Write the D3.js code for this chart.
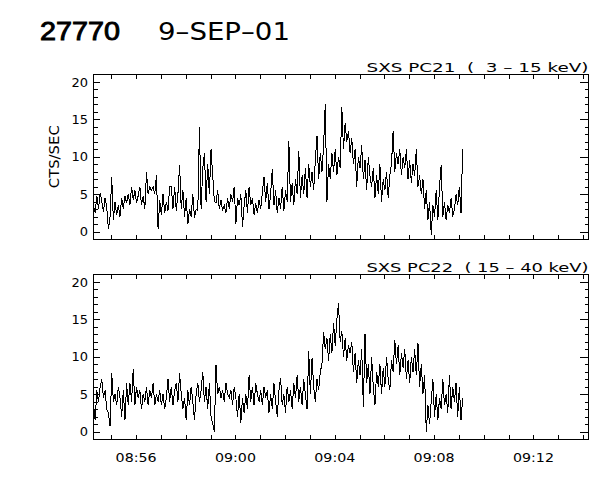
<!DOCTYPE html>
<html><head><meta charset="utf-8">
<script src="https://cdn.jsdelivr.net/npm/d3@7/dist/d3.min.js"></script>
<style>body{margin:0;background:#fff}svg{display:block}</style>
</head><body>
<svg id="chart" width="600" height="480"></svg>
<script>
// ---- data ----
const orbitLabel = "27770";
const dateLabel = "9–SEP–01";
const yAxisTitle = "CTS/SEC";
const seriesLabels = ["SXS PC21  (  3 – 15 keV)", "SXS PC22  ( 15 – 40 keV)"];
const dataStart = "2001-09-09T08:54:17Z";
const axisStart = "2001-09-09T08:54:17Z";
const axisEnd = "2001-09-09T09:14:13Z";
const binSeconds = 4;
const yTicks = [0, 5, 10, 15, 20];
const xTickLabels = ["08:56", "09:00", "09:04", "09:08", "09:12"];

const pc21 = [
 3.5,2.5,4.8,3.0,5.2,4.0,2.6,4.5,3.2,
 0.3,2.0,7.3,
 1.5,4.0,2.2,3.5,2.0,4.5,3.0,4.8,3.8,
 5.0,3.5,6.0,4.2,5.5,3.8,4.8,6.0,
 3.5,4.8,3.0,7.9,5.0,6.0,
 5.5,6.0,5.0,7.5,0.3,
 4.2,2.2,5.0,2.5,4.0,2.8,6.0,6.0,3.0,6.0,2.8,5.0,8.9,
 3.0,5.5,2.0,4.5,1.0,3.0,2.0,5.0,1.8,3.0,2.8,
 14.0,
 3.0,8.5,10.5,4.0,9.0,5.0,11.0,7.5,
 4.0,3.8,5.5,3.0,4.2,2.8,3.5,2.5,4.5,3.0,5.0,4.0,6.0,1.0,4.5,3.5,
 5.0,0.6,3.5,5.5,2.5,6.0,3.5,4.5,2.2,3.8,2.5,4.2,3.0,5.2,7.3,
 4.0,6.5,3.0,5.0,8.4,3.5,5.5,2.5,4.5,3.0,6.0,2.8,5.5,4.0,
 12.1,4.0,6.5,3.5,7.0,5.0,10.8,4.5,
 7.5,5.0,8.5,4.5,9.0,6.0,8.0,5.5,
 9.5,12.8,7.0,10.5,8.0,11.5,17.1,4.0,
 9.0,7.0,10.5,8.0,11.0,7.5,10.0,8.5,16.6,
 11.0,14.5,12.0,13.5,10.5,
 12.5,9.0,11.0,6.0,10.0,8.5,11.5,7.0,9.5,5.5,10.0,7.5,
 6.0,8.5,4.5,7.5,5.0,9.0,4.0,7.0,5.5,8.0,4.5,7.5,9.0,13.5,
 8.0,10.5,9.0,11.0,7.5,10.0,
 8.5,11.0,7.0,9.5,6.5,9.0,7.5,11.0,6.0,
 7.5,5.0,7.0,3.0,5.5,1.5,4.0,-0.4,3.5,
 2.0,5.5,1.5,6.0,8.9,2.0,
 4.0,1.5,3.5,2.5,4.5,2.0,3.0,5.0,3.5,6.0,2.5,11.1
];

const pc22 = [
 3.5,1.5,5.5,4.0,6.0,7.0,4.5,5.5,3.0,
 2.5,0.7,7.8,
 4.0,5.0,3.5,6.0,4.5,2.0,5.5,1.5,6.5,
 3.5,6.5,4.0,8.4,3.5,6.0,4.5,5.5,
 3.0,5.0,4.0,6.0,3.5,5.5,4.5,6.5,3.5,5.0,4.0,
 5.5,3.5,5.0,3.0,4.5,7.0,4.0,6.0,3.5,5.5,6.5,4.0,7.8,
 5.0,3.0,4.5,1.5,5.5,3.5,6.0,4.0,1.5,5.0,6.5,4.0,
 5.5,8.0,4.0,6.0,3.0,6.5,2.0,1.0,0.0,
 8.9,5.0,6.0,4.5,5.5,4.0,6.5,5.0,4.5,5.5,3.5,6.0,4.5,2.0,
 5.0,1.2,4.5,2.5,5.0,3.0,
 7.5,4.0,6.0,3.5,6.5,5.0,4.0,5.5,3.5,6.0,4.5,5.5,
 2.5,5.0,3.0,6.5,4.0,2.0,5.5,7.2,3.5,5.0,2.5,6.0,4.0,5.5,3.0,6.5,4.5,7.5,
 4.0,6.0,3.5,7.0,5.0,3.0,10.7,5.0,
 9.8,6.0,4.0,7.0,5.5,8.0,
 9.0,13.3,11.0,12.5,
 9.5,13.0,10.5,14.5,11.5,15.0,17.2,12.0,
 13.5,10.0,12.5,9.5,11.5,10.5,
 12.0,8.0,10.5,6.5,9.5,7.5,11.0,3.3,
 13.0,6.5,9.0,5.0,10.0,6.0,3.5,8.0,6.0,
 9.0,5.0,8.5,6.0,10.0,7.0,5.5,9.5,
 8.0,12.2,9.0,11.5,7.5,10.5,8.5,
 11.0,7.0,9.5,6.5,10.0,8.0,11.0,7.5,11.8,
 6.0,9.0,5.0,7.5,
 0.0,3.5,1.0,
 4.0,7.0,2.0,5.0,1.5,4.5,3.0,7.0,
 3.5,5.0,2.5,7.5,3.0,6.0,4.0,6.5,2.0,6.0,1.5,4.5
];

// ---- drawing ----
const svg = d3.select("#chart");
svg.append("rect").attr("width",600).attr("height",480).attr("fill","#fff");
const FONT = "DejaVu Sans, Liberation Sans, sans-serif";
const left = 93.5, right = 588.5;
const panelTops = [74.5, 274.5];
const panelH = 164.5;
const series = [pc21, pc22];

const x = d3.scaleUtc().domain([new Date(axisStart), new Date(axisEnd)]).range([left, right]);
const t0 = new Date(dataStart).getTime();

svg.append("text").attr("x",40).attr("y",40)
  .attr("font-family","Liberation Sans, Arial, sans-serif").attr("font-size",25)
  .attr("stroke","#000").attr("stroke-width",0.9)
  .attr("textLength",80).attr("lengthAdjust","spacingAndGlyphs").text(orbitLabel);
svg.append("text").attr("x",158).attr("y",40)
  .attr("font-family",FONT).attr("font-size",25).attr("font-weight","normal")
  .attr("textLength",132).attr("lengthAdjust","spacingAndGlyphs").text(dateLabel);

const minuteTicks = d3.utcMinute.every(1).range(x.domain()[0], x.domain()[1]);
const labelTicks = d3.utcMinute.every(4).range(x.domain()[0], x.domain()[1]);
const fmt = d3.utcFormat("%H:%M");

series.forEach((vals, p) => {
  const top = panelTops[p], bottom = top + panelH;
  const y = d3.scaleLinear().domain([-1, 21]).range([bottom, top]);
  const g = svg.append("g");

  // data line
  const line = d3.line()
    .x((d,i) => x(new Date(t0 + i*binSeconds*1000)))
    .y(d => y(d))
    .curve(d3.curveLinear);
  g.append("path").datum(vals).attr("d", line)
    .attr("fill","none").attr("stroke","#000").attr("stroke-width",1)
    .attr("shape-rendering","crispEdges");

  // frame
  g.append("rect").attr("x",left).attr("y",top).attr("width",right-left).attr("height",panelH)
    .attr("fill","none").attr("stroke","#000").attr("stroke-width",1).attr("shape-rendering","crispEdges");

  // y ticks
  const minorY = d3.range(0, 21, 1);
  minorY.forEach(v => {
    const major = yTicks.includes(v);
    const yy = Math.round(y(v)) + 0.5;
    g.append("line").attr("x1",left).attr("x2",left + (major?6:4)).attr("y1",yy).attr("y2",yy)
      .attr("stroke","#000").attr("shape-rendering","crispEdges");
    g.append("line").attr("x1",right).attr("x2",right - (major?9:4)).attr("y1",yy).attr("y2",yy)
      .attr("stroke","#000").attr("shape-rendering","crispEdges");
  });
  yTicks.forEach(v => {
    g.append("text").attr("x",88).attr("y",y(v)).attr("dy","0.36em")
      .attr("text-anchor","end").attr("font-family",FONT).attr("font-size",13)
      .text(String(v));
  });

  // x ticks
  minuteTicks.forEach(t => {
    const xx = Math.round(x(t)) + 0.5;
    g.append("line").attr("x1",xx).attr("x2",xx).attr("y1",bottom).attr("y2",bottom-4)
      .attr("stroke","#000").attr("shape-rendering","crispEdges");
    g.append("line").attr("x1",xx).attr("x2",xx).attr("y1",top).attr("y2",top+4)
      .attr("stroke","#000").attr("shape-rendering","crispEdges");
  });

  // series label
  g.append("text").attr("x",right).attr("y",top-3).attr("text-anchor","end")
    .attr("font-family",FONT).attr("font-size",13)
    .style("white-space","pre")
    .attr("textLength",222).attr("lengthAdjust","spacingAndGlyphs")
    .text(seriesLabels[p]);

  if (p === 0) {
    svg.append("text").attr("transform",`translate(59,${(top+bottom)/2}) rotate(-90)`)
      .attr("text-anchor","middle").attr("font-family",FONT).attr("font-size",14)
      .attr("textLength",63).attr("lengthAdjust","spacingAndGlyphs").text(yAxisTitle);
  }
  if (p === 1) {
    labelTicks.forEach(t => {
      svg.append("text").attr("x",x(t)).attr("y",462).attr("text-anchor","middle")
        .attr("font-family",FONT).attr("font-size",12.5)
        .attr("textLength",41).attr("lengthAdjust","spacingAndGlyphs")
        .text(fmt(t));
    });
  }
});
</script>
</body></html>
